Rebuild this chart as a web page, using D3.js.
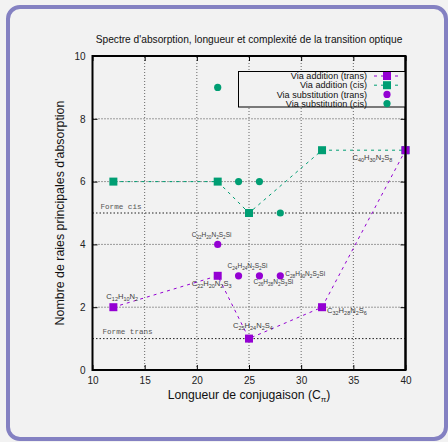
<!DOCTYPE html>
<html><head><meta charset="utf-8">
<script src="https://cdn.jsdelivr.net/npm/d3@7"></script>
<style>html,body{margin:0;padding:0;background:#f2f2f2;}svg{display:block;}</style>
</head><body>
<script>
// ---- data ----
const xTicks = [10, 15, 20, 25, 30, 35, 40];
const yTicks = [0, 2, 4, 6, 8, 10];
const addTransX = [12, 22, 25, 32, 40];
const addTransY = [2, 3, 1, 2, 7];
const addTransLabels = ["C12H10N2", "C22H20N2S3", "C25H24N2S4", "C32H28N2S6", "C40H30N2S8"];
const addCisX = [12, 22, 25, 32, 40];
const addCisY = [6, 6, 5, 7, 7];
const subTransX = [22, 24, 26, 28];
const subTransY = [4, 3, 3, 3];
const subTransLabels = ["C22H20N2S2Si", "C24H24N2S2Si", "C26H28N2S3Si", "C28H30N2S2Si"];
const subCisX = [22, 24, 26, 28];
const subCisY = [9, 6, 6, 5];
const refLevels = [5, 1];
const refNames = ["Forme cis", "Forme trans"];
const legendNames = ["Via addition (trans)", "Via addition (cis)", "Via substitution (trans)", "Via substitution (cis)"];

// label offsets (pixels) relative to points
const addTransOff = [[-7, -8], [-26, 10], [-16, -11], [5, 6], [-53, 10]];
const subTransOff = [[-26, -7], [-11, -8], [-6, 8], [5, 0]];

const PURPLE = "#9400d3", GREEN = "#009e73";
const W = 448, H = 442;
const svg = d3.select("body").append("svg").attr("width", W).attr("height", H);

svg.append("rect").attr("x", 8).attr("y", 7).attr("width", 438).attr("height", 432)
  .attr("rx", 12).attr("fill", "#f2f2f2").attr("stroke", "#8481c2").attr("stroke-width", 4);

const x = d3.scaleLinear().domain([10, 40]).range([92.5, 405.5]);
const y = d3.scaleLinear().domain([0, 10]).range([370, 56]);
const FONT = "'Liberation Sans', Arial, sans-serif";

// grid
const g = svg.append("g");
g.selectAll(".vg").data(xTicks.slice(1, -1)).join("line")
  .attr("x1", d => x(d)).attr("x2", d => x(d)).attr("y1", y(0)).attr("y2", y(10))
  .attr("stroke", "#666").attr("stroke-width", 1).attr("stroke-dasharray", "1,2");
g.selectAll(".hg").data(yTicks.slice(1, -1)).join("line")
  .attr("x1", x(10)).attr("x2", x(40)).attr("y1", d => y(d)).attr("y2", d => y(d))
  .attr("stroke", "#444").attr("stroke-width", 1).attr("stroke-dasharray", "1,2");

// reference lines
g.selectAll(".ref").data(refLevels).join("line")
  .attr("x1", x(10)).attr("x2", x(40)).attr("y1", d => y(d)).attr("y2", d => y(d))
  .attr("stroke", "#222").attr("stroke-width", 1).attr("stroke-dasharray", "1.5,2");
g.selectAll(".refT").data(refLevels).join("text")
  .attr("x", (d, i) => x(10) + (i === 0 ? 8 : 10)).attr("y", d => y(d) - 4.5)
  .attr("font-family", "'Liberation Mono', 'DejaVu Sans Mono', monospace").attr("font-size", 7.6)
  .attr("fill", "#555").text((d, i) => refNames[i]);

// axes with d3 axes (ticks inward)
const ax = svg.append("g").attr("font-family", FONT);
const xb = d3.axisBottom(x).tickValues(xTicks).tickSize(-5).tickPadding(7).tickFormat(d3.format("d"));
const yl = d3.axisLeft(y).tickValues(yTicks).tickSize(-5).tickPadding(7).tickFormat(d3.format("d"));
const xt = d3.axisTop(x).tickValues(xTicks).tickSize(-5).tickFormat("");
const yr = d3.axisRight(y).tickValues(yTicks).tickSize(-5).tickFormat("");
[[xb, `translate(0,${y(0)})`], [yl, `translate(${x(10)},0)`], [xt, `translate(0,${y(10)})`], [yr, `translate(${x(40)},0)`]]
  .forEach(([a, t]) => {
    const gg = ax.append("g").attr("transform", t).call(a);
    gg.select(".domain").remove();
    gg.selectAll("line").attr("stroke", "#000");
    gg.selectAll("text").attr("font-size", 10).attr("fill", "#222").attr("font-family", FONT);
  });
svg.append("rect").attr("x", x(10)).attr("y", y(10)).attr("width", x(40) - x(10)).attr("height", y(0) - y(10))
  .attr("fill", "none").attr("stroke", "#000").attr("stroke-width", 2);

// series
const line = d3.line();
function drawLine(xs, ys, col) {
  svg.append("path").attr("d", line(xs.map((v, i) => [x(v), y(ys[i])])))
    .attr("fill", "none").attr("stroke", col).attr("stroke-width", 1).attr("stroke-dasharray", "3,4");
}
drawLine(addCisX, addCisY, GREEN);
drawLine(addTransX, addTransY, PURPLE);

function squares(xs, ys, col) {
  svg.append("g").selectAll("rect").data(xs).join("rect")
    .attr("x", (d) => x(d) - 4).attr("y", (d, i) => y(ys[i]) - 4).attr("width", 8).attr("height", 8).attr("fill", col);
}
function circles(xs, ys, col) {
  svg.append("g").selectAll("circle").data(xs).join("circle")
    .attr("cx", d => x(d)).attr("cy", (d, i) => y(ys[i])).attr("r", 3.6).attr("fill", col);
}
squares(addCisX, addCisY, GREEN);
squares(addTransX, addTransY, PURPLE);
circles(subTransX, subTransY, PURPLE);
circles(subCisX, subCisY, GREEN);

// formula labels
function formula(sel, str, size) {
  const parts = str.match(/[A-Za-z]+|\d+/g);
  let shifted = false;
  parts.forEach(p => {
    const isNum = /\d/.test(p);
    const t = sel.append("tspan").text(p).attr("font-size", isNum ? size * 0.72 : size);
    if (isNum && !shifted) { t.attr("dy", 2); shifted = true; }
    else if (!isNum && shifted) { t.attr("dy", -2); shifted = false; }
  });
}
function labels(xs, ys, labs, offs, size) {
  labs.forEach((l, i) => {
    const t = svg.append("text").attr("x", x(xs[i]) + offs[i][0]).attr("y", y(ys[i]) + offs[i][1])
      .attr("font-family", FONT).attr("fill", "#3a3a3a");
    formula(t, l, size);
  });
}
labels(addTransX, addTransY, addTransLabels, addTransOff, 7.6);
labels(subTransX, subTransY, subTransLabels, subTransOff, 6.5);

// legend
const lg = svg.append("g");
lg.append("rect").attr("x", 238.5).attr("y", 71.5).attr("width", 167).attr("height", 35.5)
  .attr("fill", "#f2f2f2").attr("stroke", "#000").attr("stroke-width", 1);
const legCols = [PURPLE, GREEN, PURPLE, GREEN];
legendNames.forEach((n, i) => {
  const yy = 76 + i * 9.2;
  lg.append("text").attr("x", 367).attr("y", yy + 3.2).attr("text-anchor", "end")
    .attr("font-family", FONT).attr("font-size", 9.1).attr("fill", "#111").text(n);
  if (i < 2) {
    lg.append("line").attr("x1", 374).attr("x2", 401).attr("y1", yy).attr("y2", yy)
      .attr("stroke", legCols[i]).attr("stroke-width", 1).attr("stroke-dasharray", "3,4");
    lg.append("rect").attr("x", 383).attr("y", yy - 4).attr("width", 8).attr("height", 8).attr("fill", legCols[i]);
  } else {
    lg.append("circle").attr("cx", 387).attr("cy", yy).attr("r", 3.6).attr("fill", legCols[i]);
  }
});
svg.append("line").attr("x1", x(40)).attr("x2", x(40)).attr("y1", y(10)).attr("y2", y(0)).attr("stroke", "#000").attr("stroke-width", 2);

// titles
svg.append("text").attr("x", 249).attr("y", 43).attr("text-anchor", "middle")
  .attr("font-family", FONT).attr("font-size", 10.2).attr("fill", "#111")
  .text("Spectre d'absorption, longueur et complexité de la transition optique");
const xl = svg.append("text").attr("x", 249).attr("y", 399).attr("text-anchor", "middle")
  .attr("font-family", FONT).attr("font-size", 12.2).attr("fill", "#111");
xl.append("tspan").text("Longueur de conjugaison (C");
xl.append("tspan").text("π").attr("font-size", 8).attr("dy", 2.5);
xl.append("tspan").text(")").attr("dy", -2.5);
svg.append("text").attr("transform", `translate(64,${(y(0) + y(10)) / 2}) rotate(-90)`).attr("text-anchor", "middle")
  .attr("font-family", FONT).attr("font-size", 12.4).attr("fill", "#111")
  .text("Nombre de raies principales d'absorption");
</script>
</body></html>
